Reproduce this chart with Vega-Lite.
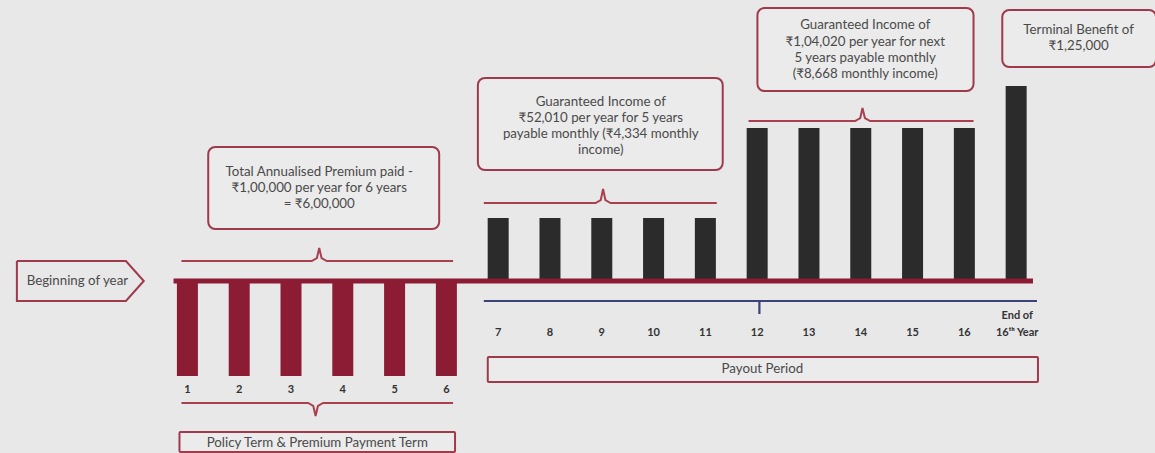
{
  "$schema": "https://vega.github.io/schema/vega-lite/v6.json",
  "width": 1155,
  "height": 453,
  "padding": 0,
  "autosize": {"type": "none"},
  "background": "#e8e8e8",
  "config": {"view": {"stroke": null}, "font": "Lato", "text": {"font": "Lato"}},
  "layer": [
    {
      "data": {"values": [
        {"year": 1, "amount": -100000, "kind": "premium"},
        {"year": 2, "amount": -100000, "kind": "premium"},
        {"year": 3, "amount": -100000, "kind": "premium"},
        {"year": 4, "amount": -100000, "kind": "premium"},
        {"year": 5, "amount": -100000, "kind": "premium"},
        {"year": 6, "amount": -100000, "kind": "premium"},
        {"year": 7, "amount": 52010, "kind": "income"},
        {"year": 8, "amount": 52010, "kind": "income"},
        {"year": 9, "amount": 52010, "kind": "income"},
        {"year": 10, "amount": 52010, "kind": "income"},
        {"year": 11, "amount": 52010, "kind": "income"},
        {"year": 12, "amount": 104020, "kind": "income"},
        {"year": 13, "amount": 104020, "kind": "income"},
        {"year": 14, "amount": 104020, "kind": "income"},
        {"year": 15, "amount": 104020, "kind": "income"},
        {"year": 16, "amount": 104020, "kind": "income"},
        {"year": 17, "amount": 125000, "kind": "terminal"}
      ]},
      "layer": [
        {
          "mark": {"type": "bar", "width": 21},
          "encoding": {
            "x": {"field": "year", "type": "quantitative", "axis": null, "scale": {"domain": [-2.5215, 19.584], "nice": false, "zero": false}},
            "y": {"field": "amount", "type": "quantitative", "axis": null, "scale": {"domain": [-100000, 0, 52010, 104020, 125000], "range": [376, 281, 218, 128, 86], "nice": false, "zero": false, "clamp": false}},
            "y2": {"datum": 0},
            "color": {"field": "kind", "type": "nominal", "legend": null, "scale": {"domain": ["premium", "income", "terminal"], "range": ["#8b1c34", "#2b2b2b", "#2b2b2b"]}}
          }
        },
        {
          "data": {"values": [{"from": 0.732, "to": 17.325, "base": 0}]},
          "mark": {"type": "rule", "strokeWidth": 5, "color": "#8b1c34"},
          "encoding": {
            "x": {"field": "from", "type": "quantitative", "axis": null, "scale": {"domain": [-2.5215, 19.584], "nice": false, "zero": false}},
            "x2": {"field": "to"},
            "y": {"field": "base", "type": "quantitative", "axis": null, "scale": {"domain": [-100000, 0, 52010, 104020, 125000], "range": [376, 281, 218, 128, 86], "nice": false, "zero": false, "clamp": false}}
          }
        }
      ]
    },
    {
      "layer": [
        {
          "data": {"values": [
            {"box": "premium", "x1": 1.402, "x2": 5.861, "y1": 147, "y2": 229},
            {"box": "income1", "x1": 6.608, "x2": 11.335, "y1": 78, "y2": 170},
            {"box": "income2", "x1": 12.005, "x2": 16.177, "y1": 8, "y2": 91},
            {"box": "terminal", "x1": 16.732, "x2": 19.7, "y1": 10, "y2": 67}
          ]},
          "mark": {"type": "rect", "cornerRadius": 7, "fill": "#ebebeb", "stroke": "#9e3a4c", "strokeWidth": 2},
          "encoding": {
            "x": {"field": "x1", "type": "quantitative", "axis": null, "scale": {"domain": [-2.5215, 19.584], "nice": false, "zero": false}},
            "x2": {"field": "x2"},
            "y": {"field": "y1", "type": "quantitative", "axis": null, "scale": {"domain": [0, 453], "range": [0, 453], "nice": false, "zero": false}},
            "y2": {"field": "y2"}
          }
        },
        {
          "data": {"values": [
            {"box": "policy", "x1": 0.847, "x2": 6.167, "y1": 432, "y2": 452},
            {"box": "payout", "x1": 6.799, "x2": 17.421, "y1": 357, "y2": 382}
          ]},
          "mark": {"type": "rect", "cornerRadius": 1, "fill": "#ebebeb", "stroke": "#9e3a4c", "strokeWidth": 2},
          "encoding": {
            "x": {"field": "x1", "type": "quantitative", "axis": null, "scale": {"domain": [-2.5215, 19.584], "nice": false, "zero": false}},
            "x2": {"field": "x2"},
            "y": {"field": "y1", "type": "quantitative", "axis": null},
            "y2": {"field": "y2"}
          }
        },
        {
          "data": {"values": [
            {"shape": "begin", "ord": 1, "x": -2.292, "y": 261},
            {"shape": "begin", "ord": 2, "x": -0.187, "y": 261},
            {"shape": "begin", "ord": 3, "x": 0.158, "y": 281},
            {"shape": "begin", "ord": 4, "x": -0.187, "y": 301},
            {"shape": "begin", "ord": 5, "x": -2.292, "y": 301},
            {"shape": "begin", "ord": 6, "x": -2.292, "y": 261}
          ]},
          "mark": {"type": "line", "stroke": "#9e3a4c", "strokeWidth": 2, "strokeJoin": "miter"},
          "encoding": {
            "x": {"field": "x", "type": "quantitative", "axis": null, "scale": {"domain": [-2.5215, 19.584], "nice": false, "zero": false}},
            "y": {"field": "y", "type": "quantitative", "axis": null},
            "detail": {"field": "shape"},
            "order": {"field": "ord"}
          }
        },
        {
          "data": {"values": [
            {"brace": "premium", "ord": 1, "x": 0.885, "y": 261},
            {"brace": "premium", "ord": 2, "x": 3.4, "y": 261},
            {"brace": "premium", "ord": 3, "x": 3.5, "y": 258},
            {"brace": "premium", "ord": 4, "x": 3.545, "y": 248},
            {"brace": "premium", "ord": 5, "x": 3.59, "y": 258},
            {"brace": "premium", "ord": 6, "x": 3.69, "y": 261},
            {"brace": "premium", "ord": 7, "x": 6.129, "y": 261},
            {"brace": "policy", "ord": 1, "x": 0.885, "y": 403},
            {"brace": "policy", "ord": 2, "x": 3.33, "y": 403},
            {"brace": "policy", "ord": 3, "x": 3.43, "y": 406},
            {"brace": "policy", "ord": 4, "x": 3.475, "y": 416},
            {"brace": "policy", "ord": 5, "x": 3.52, "y": 406},
            {"brace": "policy", "ord": 6, "x": 3.62, "y": 403},
            {"brace": "policy", "ord": 7, "x": 6.129, "y": 403},
            {"brace": "income1", "ord": 1, "x": 6.722, "y": 203},
            {"brace": "income1", "ord": 2, "x": 8.88, "y": 203},
            {"brace": "income1", "ord": 3, "x": 8.98, "y": 200},
            {"brace": "income1", "ord": 4, "x": 9.025, "y": 189},
            {"brace": "income1", "ord": 5, "x": 9.07, "y": 200},
            {"brace": "income1", "ord": 6, "x": 9.17, "y": 203},
            {"brace": "income1", "ord": 7, "x": 11.22, "y": 203},
            {"brace": "income2", "ord": 1, "x": 11.833, "y": 121},
            {"brace": "income2", "ord": 2, "x": 13.89, "y": 121},
            {"brace": "income2", "ord": 3, "x": 13.99, "y": 118},
            {"brace": "income2", "ord": 4, "x": 14.033, "y": 108},
            {"brace": "income2", "ord": 5, "x": 14.08, "y": 118},
            {"brace": "income2", "ord": 6, "x": 14.18, "y": 121},
            {"brace": "income2", "ord": 7, "x": 16.177, "y": 121}
          ]},
          "mark": {"type": "line", "stroke": "#a8404f", "strokeWidth": 2, "interpolate": "linear"},
          "encoding": {
            "x": {"field": "x", "type": "quantitative", "axis": null, "scale": {"domain": [-2.5215, 19.584], "nice": false, "zero": false}},
            "y": {"field": "y", "type": "quantitative", "axis": null},
            "detail": {"field": "brace"},
            "order": {"field": "ord"}
          }
        },
        {
          "data": {"values": [
            {"x1": 6.722, "x2": 17.402, "y1": 301, "y2": 301},
            {"x1": 12.043, "x2": 12.043, "y1": 301, "y2": 314}
          ]},
          "mark": {"type": "rule", "stroke": "#3d4278", "strokeWidth": 2.2},
          "encoding": {
            "x": {"field": "x1", "type": "quantitative", "axis": null, "scale": {"domain": [-2.5215, 19.584], "nice": false, "zero": false}},
            "x2": {"field": "x2"},
            "y": {"field": "y1", "type": "quantitative", "axis": null},
            "y2": {"field": "y2"}
          }
        },
        {
          "data": {"values": [
            {"x": 3.545, "y": 172, "text": "Total Annualised Premium paid -"},
            {"x": 3.545, "y": 188, "text": "₹1,00,000 per year for 6 years"},
            {"x": 3.545, "y": 204, "text": "= ₹6,00,000"},
            {"x": 8.981, "y": 102, "text": "Guaranteed Income of"},
            {"x": 8.981, "y": 118, "text": "₹52,010 per year for 5 years"},
            {"x": 8.981, "y": 134, "text": "payable monthly (₹4,334 monthly"},
            {"x": 8.981, "y": 150, "text": "income)"},
            {"x": 14.086, "y": 25, "text": "Guaranteed Income of"},
            {"x": 14.086, "y": 42, "text": "₹1,04,020 per year for next"},
            {"x": 14.086, "y": 58, "text": "5 years payable monthly"},
            {"x": 14.086, "y": 74, "text": "(₹8,668 monthly income)"},
            {"x": 18.206, "y": 30, "text": "Terminal Benefit of"},
            {"x": 18.206, "y": 46, "text": "₹1,25,000"},
            {"x": 3.507, "y": 443, "text": "Policy Term & Premium Payment Term"},
            {"x": 12.1, "y": 369, "text": "Payout Period"},
            {"x": -1.124, "y": 281, "text": "Beginning of year"}
          ]},
          "mark": {"type": "text", "font": "Lato", "fontSize": 13.3, "color": "#4a4a4a", "baseline": "middle", "align": "center"},
          "encoding": {
            "x": {"field": "x", "type": "quantitative", "axis": null, "scale": {"domain": [-2.5215, 19.584], "nice": false, "zero": false}},
            "y": {"field": "y", "type": "quantitative", "axis": null},
            "text": {"field": "text"}
          }
        },
        {
          "data": {"values": [
            {"x": 1, "y": 390, "text": "1"},
            {"x": 2, "y": 390, "text": "2"},
            {"x": 3, "y": 390, "text": "3"},
            {"x": 4, "y": 390, "text": "4"},
            {"x": 5, "y": 390, "text": "5"},
            {"x": 6, "y": 390, "text": "6"},
            {"x": 7, "y": 333, "text": "7"},
            {"x": 8, "y": 333, "text": "8"},
            {"x": 9, "y": 333, "text": "9"},
            {"x": 10, "y": 333, "text": "10"},
            {"x": 11, "y": 333, "text": "11"},
            {"x": 12, "y": 333, "text": "12"},
            {"x": 13, "y": 333, "text": "13"},
            {"x": 14, "y": 333, "text": "14"},
            {"x": 15, "y": 333, "text": "15"},
            {"x": 16, "y": 333, "text": "16"},
            {"x": 17.02, "y": 316, "text": "End of"},
            {"x": 17.02, "y": 333, "text": "16ᵗʰ Year"}
          ]},
          "mark": {"type": "text", "font": "Lato", "fontSize": 11, "fontWeight": "bold", "color": "#333333", "baseline": "middle", "align": "center"},
          "encoding": {
            "x": {"field": "x", "type": "quantitative", "axis": null, "scale": {"domain": [-2.5215, 19.584], "nice": false, "zero": false}},
            "y": {"field": "y", "type": "quantitative", "axis": null},
            "text": {"field": "text"}
          }
        }
      ]
    }
  ],
  "resolve": {"scale": {"y": "independent"}}
}
